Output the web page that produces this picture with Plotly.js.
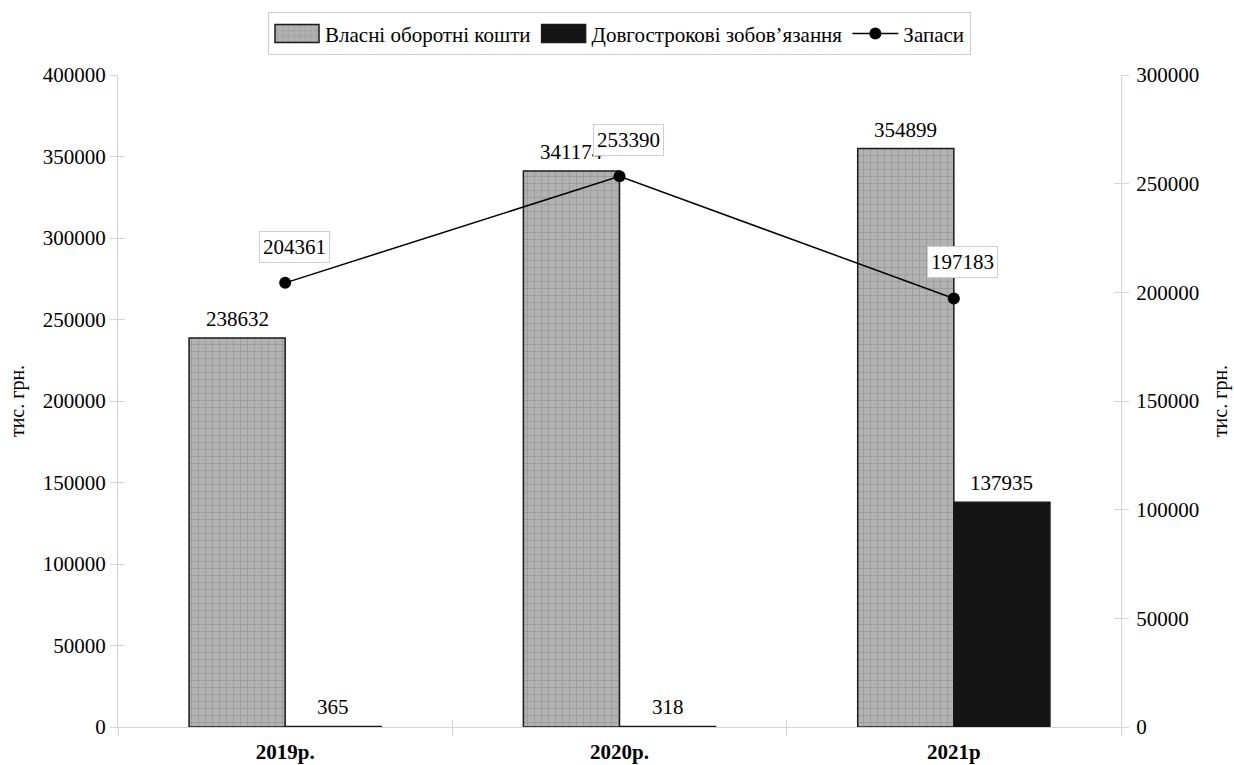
<!DOCTYPE html>
<html>
<head>
<meta charset="utf-8">
<script src="https://cdn.plot.ly/plotly-3.0.1.min.js"></script>
<style>
  html, body { margin: 0; padding: 0; background: #fff; }
  #chart { width: 1234px; height: 765px; }
</style>
</head>
<body>
<div id="chart"></div>
<script>
// Years on the category axis
const years = ['2019р.', '2020р.', '2021р'];

// Own working capital and long-term liabilities (left axis), тис. грн.
const ownCapital = [238632, 341174, 354899];
const longTermDebt = [365, 318, 137935];

// Inventories (right axis), тис. грн.
const inventories = [204361, 253390, 197183];

const seriesNames = ['Власні оборотні кошти', 'Довгострокові зобов’язання', 'Запаси'];
const axisTitle = 'тис. грн.';

const FONT = 'Liberation Serif, Times New Roman, serif';
const FS = 21;
const BARGAP = 0.425;
const AXIS_GRAY = '#d4d4d4';

const traces = [
  {
    type: 'bar',
    name: seriesNames[0],
    x: years,
    y: ownCapital,
    marker: {
      color: '#ababab',
      line: { color: '#1a1a1a', width: 1.5 },
      pattern: { shape: '+', fgcolor: '#8c8c8c', bgcolor: '#b2b2b2', size: 7, solidity: 0.15 }
    },
    hoverinfo: 'y'
  },
  {
    type: 'bar',
    name: seriesNames[1],
    x: years,
    y: longTermDebt,
    marker: {
      color: '#141414',
      line: { color: '#1a1a1a', width: 1.5 }
    },
    hoverinfo: 'y'
  },
  {
    type: 'scatter',
    mode: 'lines+markers',
    name: seriesNames[2],
    x: years,
    y: inventories,
    yaxis: 'y2',
    line: { color: '#000', width: 1.5 },
    marker: { color: '#000', size: 12 },
    hoverinfo: 'y'
  }
];

// Value labels: bars (left axis) and boxed labels for the line (right axis)
const barOffset = (1 - BARGAP) / 4; // half a bar, in category units
const labelFont = { family: FONT, size: FS, color: '#000' };
const annotations = [];
years.forEach((yr, i) => {
  annotations.push({
    x: i - barOffset, y: ownCapital[i], xref: 'x', yref: 'y',
    text: String(ownCapital[i]), showarrow: false,
    yanchor: 'bottom', yshift: 5, font: labelFont
  });
  annotations.push({
    x: i + barOffset, y: longTermDebt[i], xref: 'x', yref: 'y',
    text: String(longTermDebt[i]), showarrow: false,
    yanchor: 'bottom', yshift: 5, font: labelFont
  });
});
years.forEach((yr, i) => {
  annotations.push({
    x: i, y: inventories[i], xref: 'x', yref: 'y2',
    text: String(inventories[i]), showarrow: false,
    xshift: 9, yshift: 36,
    bgcolor: '#fff', bordercolor: '#cfcfcf', borderwidth: 1, borderpad: 3,
    font: labelFont
  });
});

const layout = {
  width: 1234,
  height: 765,
  margin: { l: 118, r: 113, t: 75, b: 38 },
  paper_bgcolor: '#fff',
  plot_bgcolor: '#fff',
  font: { family: FONT, size: FS, color: '#000' },
  barmode: 'group',
  bargap: BARGAP,
  bargroupgap: 0,
  showlegend: true,
  legend: {
    orientation: 'h',
    x: 0.5, xanchor: 'center',
    y: 1.03, yanchor: 'bottom',
    bordercolor: '#cccccc', borderwidth: 1,
    font: { family: FONT, size: FS, color: '#000' },
    itemwidth: 46,
    tracegroupgap: 0,
    traceorder: 'normal'
  },
  xaxis: {
    type: 'category',
    range: [-0.5, 2.5],
    showline: true, linecolor: AXIS_GRAY, linewidth: 1,
    showgrid: false, zeroline: false,
    ticks: 'outside', tickson: 'boundaries', ticklen: 8, tickcolor: AXIS_GRAY,
    ticklabelstandoff: 6,
    tickfont: { family: FONT, size: FS, color: '#000', weight: 'bold' },
    fixedrange: true
  },
  xaxis2: {
    type: 'category', overlaying: 'x', side: 'bottom',
    categoryarray: years, range: [-0.5, 2.5],
    showline: false, showgrid: false, zeroline: false,
    ticks: 'inside', tickson: 'boundaries', ticklen: 7, tickcolor: AXIS_GRAY,
    showticklabels: false, fixedrange: true
  },
  yaxis: {
    range: [0, 400000], dtick: 50000, tickformat: 'd',
    showline: true, linecolor: AXIS_GRAY, linewidth: 1,
    showgrid: false, zeroline: false,
    ticks: 'outside', ticklen: 7, tickcolor: AXIS_GRAY,
    tickfont: { family: FONT, size: FS, color: '#000' },
    title: { text: axisTitle, font: { family: FONT, size: 20, color: '#000' }, standoff: 12 },
    fixedrange: true
  },
  yaxis2: {
    overlaying: 'y', side: 'right',
    range: [0, 300000], dtick: 50000, tickformat: 'd',
    showline: true, linecolor: AXIS_GRAY, linewidth: 1,
    showgrid: false, zeroline: false,
    ticks: 'outside', ticklen: 7, tickcolor: AXIS_GRAY,
    ticklabelstandoff: 3,
    tickfont: { family: FONT, size: FS, color: '#000' },
    title: { text: axisTitle, font: { family: FONT, size: 20, color: '#000' }, standoff: 14 },
    fixedrange: true
  },
  // inward halves of the cross tick marks
  yaxis3: {
    overlaying: 'y', side: 'left',
    range: [0, 400000], dtick: 50000,
    showline: false, showgrid: false, zeroline: false,
    ticks: 'inside', ticklen: 7, tickcolor: AXIS_GRAY,
    showticklabels: false, fixedrange: true
  },
  yaxis4: {
    overlaying: 'y', side: 'right',
    range: [0, 300000], dtick: 50000,
    showline: false, showgrid: false, zeroline: false,
    ticks: 'inside', ticklen: 7, tickcolor: AXIS_GRAY,
    showticklabels: false, fixedrange: true
  },
  annotations: annotations
};

// empty carriers so the extra tick axes are drawn
traces.push(
  { type: 'scatter', x: years, y: [null, null, null], xaxis: 'x2', yaxis: 'y3', showlegend: false, hoverinfo: 'skip' },
  { type: 'scatter', x: [], y: [], yaxis: 'y4', showlegend: false, hoverinfo: 'skip' }
);

Plotly.newPlot('chart', traces, layout, { displayModeBar: false, staticPlot: true }).then(gd => {
  // widen the bar swatches in the legend into flat rectangles
  const items = gd.querySelectorAll('.legend .traces');
  items.forEach((item, k) => {
    if (k > 1) return;
    item.querySelectorAll('.legendpoints path').forEach(p => {
      p.setAttribute('d', 'M-22,-9H22V9H-22Z');
    });
  });
});
</script>
</body>
</html>
